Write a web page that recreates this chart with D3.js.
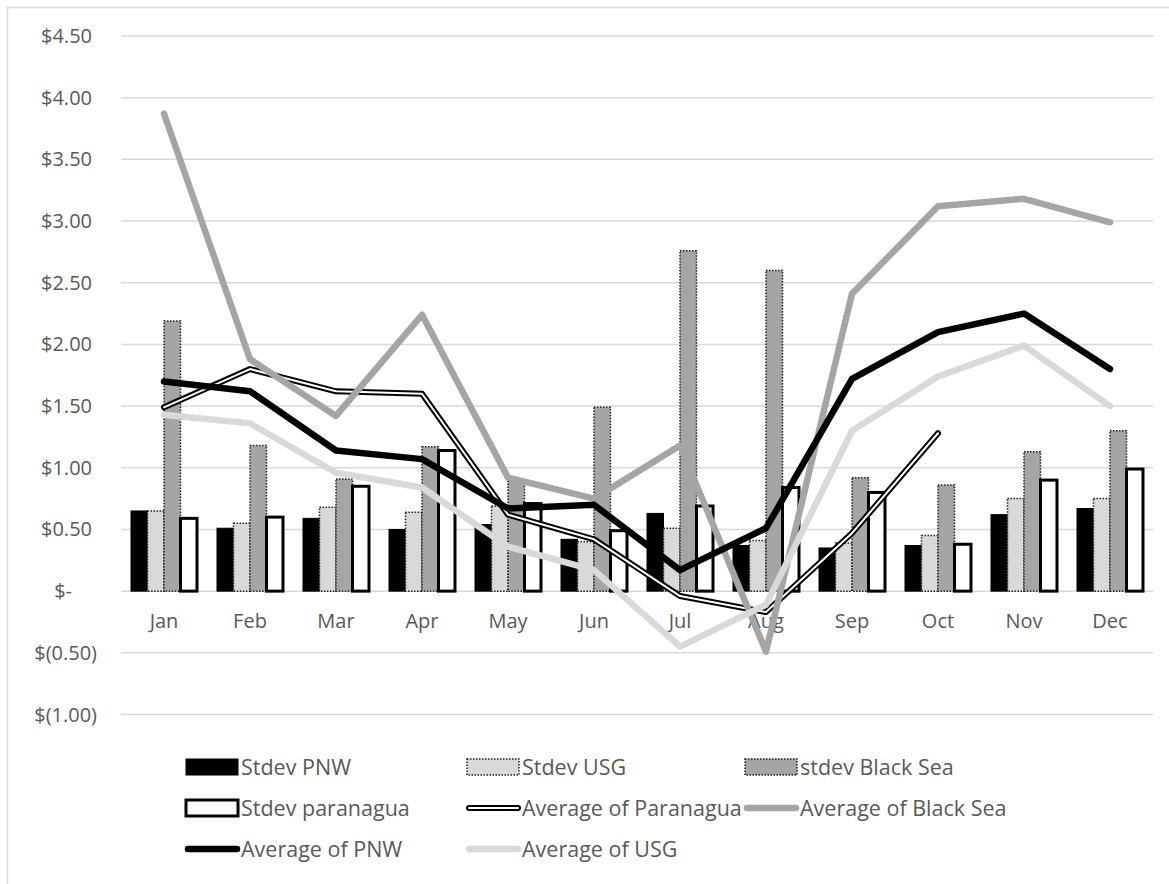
<!DOCTYPE html>
<html>
<head>
<meta charset="utf-8">
<script src="https://cdn.jsdelivr.net/npm/d3@7"></script>
<style>
  body { margin: 0; background: #fff; }
  text { font-family: "Open Sans", sans-serif; fill: #595959; }
</style>
</head>
<body>
<script>
const months = ['Jan', 'Feb', 'Mar', 'Apr', 'May', 'Jun', 'Jul', 'Aug', 'Sep', 'Oct', 'Nov', 'Dec'];

// bar series (standard deviations)
const stdevPNW = [0.65, 0.51, 0.59, 0.50, 0.54, 0.42, 0.63, 0.37, 0.35, 0.37, 0.62, 0.67];
const stdevUSG = [0.65, 0.55, 0.68, 0.64, 0.69, 0.40, 0.51, 0.41, 0.39, 0.45, 0.75, 0.75];
const stdevBlackSea = [2.19, 1.18, 0.91, 1.17, 0.89, 1.49, 2.76, 2.60, 0.92, 0.86, 1.13, 1.30];
const stdevParanagua = [0.59, 0.60, 0.85, 1.14, 0.71, 0.49, 0.69, 0.84, 0.80, 0.38, 0.90, 0.99];

// line series (averages)
const avgParanagua = [1.49, 1.80, 1.62, 1.60, 0.62, 0.42, -0.04, -0.17, 0.47, 1.28, null, null];
const avgBlackSea = [3.87, 1.88, 1.42, 2.24, 0.92, 0.75, 1.18, -0.49, 2.41, 3.12, 3.18, 2.99];
const avgPNW = [1.70, 1.62, 1.14, 1.07, 0.67, 0.70, 0.17, 0.51, 1.72, 2.10, 2.25, 1.80];
const avgUSG = [1.43, 1.36, 0.96, 0.84, 0.36, 0.17, -0.45, -0.11, 1.30, 1.74, 1.99, 1.50];

const yTicks = [-1, -0.5, 0, 0.5, 1, 1.5, 2, 2.5, 3, 3.5, 4, 4.5];

const width = 1169, height = 884;
const margin = { top: 36, right: 16, bottom: 170, left: 121 };

const svg = d3.select('body').append('svg')
  .attr('width', width)
  .attr('height', height);

// chart border (only top/left are inside the picture)
svg.append('rect')
  .attr('x', 7.5).attr('y', 7.5)
  .attr('width', width).attr('height', height)
  .attr('fill', 'none').attr('stroke', '#d9d9d9').attr('stroke-width', 1.5);

const x = d3.scaleBand()
  .domain(months)
  .range([margin.left, width - margin.right])
  .paddingInner(0.2326)
  .paddingOuter(0.1163);

const y = d3.scaleLinear()
  .domain([-1, 4.5])
  .range([714.5, margin.top]);

// gridlines
svg.append('g')
  .selectAll('line')
  .data(yTicks)
  .join('line')
  .attr('x1', margin.left)
  .attr('x2', width - margin.right)
  .attr('y1', (d) => y(d))
  .attr('y2', (d) => y(d))
  .attr('stroke', '#d9d9d9')
  .attr('stroke-width', 1.5);

// y labels, accounting style
const fmt = (d) => {
  if (d === 0) return '$-';
  if (d < 0) return `$(${d3.format('.2f')(-d)})`;
  return `$${d3.format('.2f')(d)}`;
};
svg.append('g')
  .selectAll('text')
  .data(yTicks)
  .join('text')
  .attr('x', 97)
  .attr('y', (d) => y(d))
  .attr('dy', '0.35em')
  .attr('dx', (d) => (d === 0 ? -25 : d < 0 ? 0 : -5))
  .attr('text-anchor', 'end')
  .attr('font-size', 20)
  .text(fmt);

// month labels
svg.append('g')
  .selectAll('text')
  .data(months)
  .join('text')
  .attr('x', (d) => x(d) + x.bandwidth() / 2)
  .attr('y', 628)
  .attr('text-anchor', 'middle')
  .attr('font-size', 20)
  .text((d) => d);

// bars
const barSeries = [
  { key: 'Stdev PNW', values: stdevPNW, fill: '#000', stroke: '#000', sw: 1, dash: null },
  { key: 'Stdev USG', values: stdevUSG, fill: '#d9d9d9', stroke: '#222', sw: 1.5, dash: '1.5,1.5' },
  { key: 'stdev Black Sea', values: stdevBlackSea, fill: '#a5a5a5', stroke: '#222', sw: 1.5, dash: '1.5,1.5' },
  { key: 'Stdev paranagua', values: stdevParanagua, fill: '#fff', stroke: '#000', sw: 3, dash: null },
];

const xSub = d3.scaleBand()
  .domain(barSeries.map((s) => s.key))
  .range([0, x.bandwidth()]);

const barG = svg.append('g');
barSeries.forEach((s) => {
  barG.append('g')
    .selectAll('rect')
    .data(s.values.map((v, i) => ({ month: months[i], v })))
    .join('rect')
    .attr('x', (d) => x(d.month) + xSub(s.key))
    .attr('width', xSub.bandwidth())
    .attr('y', (d) => y(Math.max(0, d.v)))
    .attr('height', (d) => Math.abs(y(d.v) - y(0)))
    .attr('fill', s.fill)
    .attr('stroke', s.stroke)
    .attr('stroke-width', s.sw)
    .attr('stroke-dasharray', s.dash);
});

// lines
const line = d3.line()
  .defined((d) => d.v !== null)
  .x((d) => x(d.month) + x.bandwidth() / 2)
  .y((d) => y(d.v));

const asPoints = (arr) => arr.map((v, i) => ({ month: months[i], v }));

const lineSeries = [
  { key: 'Average of Paranagua', values: avgParanagua, color: '#000', w: 6, inner: '#fff' },
  { key: 'Average of Black Sea', values: avgBlackSea, color: '#a5a5a5', w: 6.5 },
  { key: 'Average of PNW', values: avgPNW, color: '#000', w: 6.5 },
  { key: 'Average of USG', values: avgUSG, color: '#d9d9d9', w: 6.5 },
];

const lineG = svg.append('g');
lineSeries.forEach((s) => {
  lineG.append('path')
    .datum(asPoints(s.values))
    .attr('d', line)
    .attr('fill', 'none')
    .attr('stroke', s.color)
    .attr('stroke-width', s.w)
    .attr('stroke-linejoin', 'round')
    .attr('stroke-linecap', 'round');
  if (s.inner) {
    lineG.append('path')
      .datum(asPoints(s.values))
      .attr('d', line)
      .attr('fill', 'none')
      .attr('stroke', s.inner)
      .attr('stroke-width', 2)
      .attr('stroke-linejoin', 'round')
      .attr('stroke-linecap', 'round');
  }
});

// legend
const legendItems = [
  { type: 'bar', s: barSeries[0] },
  { type: 'bar', s: barSeries[1] },
  { type: 'bar', s: barSeries[2] },
  { type: 'bar', s: barSeries[3] },
  { type: 'line', s: lineSeries[0] },
  { type: 'line', s: lineSeries[1] },
  { type: 'line', s: lineSeries[2] },
  { type: 'line', s: lineSeries[3] },
];
const colX = [185, 466, 744];
const rowY = [767, 808, 849];

const legend = svg.append('g');
legendItems.forEach((item, i) => {
  const cx = colX[i % 3];
  const cy = rowY[Math.floor(i / 3)];
  const g = legend.append('g').attr('transform', `translate(${cx},${cy})`);
  if (item.type === 'bar') {
    g.append('rect')
      .attr('x', 1).attr('y', -8)
      .attr('width', 52).attr('height', 16)
      .attr('fill', item.s.fill)
      .attr('stroke', item.s.stroke)
      .attr('stroke-width', item.s.sw)
      .attr('stroke-dasharray', item.s.dash);
  } else {
    g.append('line')
      .attr('x1', 3).attr('x2', 52).attr('y1', 0).attr('y2', 0)
      .attr('stroke', item.s.color).attr('stroke-width', item.s.w)
      .attr('stroke-linecap', 'round');
    if (item.s.inner) {
      g.append('line')
        .attr('x1', 3).attr('x2', 52).attr('y1', 0).attr('y2', 0)
        .attr('stroke', item.s.inner).attr('stroke-width', 2)
        .attr('stroke-linecap', 'round');
    }
  }
  g.append('text')
    .attr('x', 56)
    .attr('y', 0)
    .attr('dy', '0.35em')
    .attr('font-size', 21.5)
    .text(item.s.key);
});
</script>
</body>
</html>
